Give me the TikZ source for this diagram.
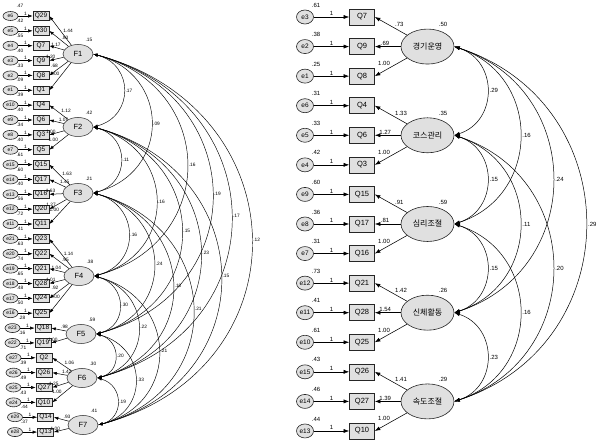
\documentclass[tikz,border=0pt]{standalone}
\usepackage{fontspec}
\setmainfont{Liberation Sans}
\newfontfamily\krfont{Noto Sans CJK KR}
\usepackage{tikz}
\usetikzlibrary{arrows.meta,shapes.geometric,calc}

\tikzset{
  errL/.style={ellipse,draw=black!85,fill=black!12,line width=0.6pt,inner sep=0pt,minimum width=15pt,minimum height=9pt,font=\fontsize{5}{5}\selectfont},
  obsL/.style={rectangle,draw=black!85,fill=black!12,line width=0.6pt,inner sep=0pt,minimum width=16pt,minimum height=8.5pt,font=\fontsize{6.5}{6.5}\selectfont},
  latL/.style={ellipse,draw=black!85,fill=black!12,line width=0.5pt,inner sep=0pt,minimum width=30pt,minimum height=19pt,font=\fontsize{7.5}{7.5}\selectfont},
  numL/.style={font=\fontsize{4.8}{5}\selectfont,inner sep=0.6pt},
  regL/.style={-{Latex[length=4.5pt,width=3.2pt]},line width=0.5pt},
  covL/.style={{Latex[length=4.5pt,width=3pt]}-{Latex[length=4.5pt,width=3pt]},line width=0.45pt,out=-15,in=15,looseness=1.48},
  errR/.style={ellipse,draw=black!85,fill=black!12,line width=0.6pt,inner sep=0pt,minimum width=17pt,minimum height=14pt,font=\fontsize{6.5}{6.5}\selectfont},
  obsR/.style={rectangle,draw=black!85,fill=black!12,line width=0.6pt,inner sep=0pt,minimum width=25pt,minimum height=16pt,font=\fontsize{7.5}{7.5}\selectfont},
  latR/.style={ellipse,draw=black!85,fill=black!12,line width=0.6pt,inner sep=0pt,minimum width=53pt,minimum height=35pt,font=\krfont\fontsize{8}{8}\selectfont},
  numR/.style={font=\fontsize{6}{6}\selectfont,inner sep=0.8pt},
  regR/.style={-{Latex[length=5.5pt,width=4pt]},line width=0.55pt},
  covR/.style={{Latex[length=5.5pt,width=3.6pt]}-{Latex[length=5.5pt,width=3.6pt]},line width=0.5pt,out=-18,in=18,looseness=1.33},
  lblSW/.style={pos=0.4,anchor=south west},
  lblS/.style={pos=0.55,anchor=south},
  lblB/.style={pos=0.9,anchor=south,yshift=0.5pt},
  lblSE/.style={pos=0.5,anchor=south east},
  lblRS/.style={pos=0.6,anchor=south}
}

\begin{document}
\begin{tikzpicture}[x=1pt,y=-1pt]
  \useasboundingbox (0,0) rectangle (600,446);

  % left model: seven factors
  \foreach \f/\x/\y/\v in {F1/78/54/.15,F2/78/127/.42,F3/78/193/.21,F4/79/276/.38,F5/81/334/.59,F6/82/378/.30,F7/83/425/.41}{
    \node[latL] (L-\f) at (\x,\y) {\f};
    \node[numL] (L-\f-var) at (\x+11,\y-14) {\v};
  }
  \foreach \r/\q/\e/\ev/\f/\w/\an/\dx in {
      0/Q29/e6/.47/F1/1.44/lblSW/0, 1/Q30/e5/.42/F1/.83/lblSW/0, 2/Q7/e4/.55/F1/1.17/lblS/0,
      3/Q9/e3/.40/F1/1.20/lblB/0, 4/Q8/e2/.33/F1/.68/lblSE/0, 5/Q1/e1/.09/F1/1.00/lblSE/0,
      6/Q4/e10/.39/F2/1.12/lblSW/0, 7/Q6/e9/.40/F2/1.07/lblSW/0, 8/Q3/e8/.34/F2/1.00/lblB/0,
      9/Q5/e7/.40/F2/1.00/lblSE/0,
      10/Q15/e15/.61/F3/1.63/lblSW/0, 11/Q17/e14/.60/F3/1.45/lblSW/0, 12/Q16/e13/.40/F3/1.63/lblB/0,
      13/Q20/e12/.56/F3/1.27/lblB/0, 14/Q11/e11/.72/F3/1.00/lblSE/0,
      15/Q23/e21/.41/F4/1.14/lblSW/0, 16/Q22/e20/.63/F4/.95/lblSW/0, 17/Q21/e19/.74/F4/1.04/lblS/0,
      18/Q28/e18/.65/F4/1.01/lblB/0, 19/Q24/e17/.48/F4/.92/lblSE/0, 20/Q25/e16/.50/F4/1.00/lblSE/0,
      21/Q18/e23/.28/F5/.98/lblSW/2, 22/Q19/e22/.16/F5/1.00/lblB/2,
      23/Q2/e27/.71/F6/1.06/lblSW/3, 24/Q26/e26/.39/F6/1.42/lblSW/3, 25/Q27/e25/.49/F6/1.25/lblB/3,
      26/Q10/e24/.43/F6/1.00/lblSE/3,
      27/Q14/e29/.44/F7/.93/lblSW/4.5, 28/Q13/e28/.37/F7/1.00/lblB/4.5}{
    \pgfmathsetmacro\yy{16+14.86*\r}
    \node[errL] (L-\e) at (10.5+\dx,\yy) {\e};
    \node[obsL] (L-\q) at (41+\dx,\yy) {\q};
    \node[numL] (L-\e-var) at (20+\dx,\yy-10) {\ev};
    \draw[regL] (L-\e) -- (L-\q) node[numL,midway,above] (L-\e-one) {1};
    \draw[regL] (L-\f) -- (L-\q.east) node[numL,\an] (L-\q-w) {\w};
  }
  \foreach \a/\b/\c in {1/2/.17,1/3/.09,1/4/.16,1/5/.19,1/6/.17,1/7/.12,
      2/3/.11,2/4/.16,2/5/.15,2/6/.23,2/7/.15,3/4/.16,3/5/.24,3/6/.10,3/7/.21,
      4/5/.30,4/6/.22,4/7/.21,5/6/.20,5/7/.33,6/7/.19}
    \draw[covL] (L-F\a.east) to node[numL,right,xshift=1pt] (L-c\a\b) {\c} (L-F\b.east);

  % right model: five factors
  \foreach \k/\t/\v in {1/경기운영/.50,2/코스관리/.35,3/심리조절/.59,4/신체활동/.26,5/속도조절/.29}{
    \pgfmathsetmacro\yy{17+29.57*(3*\k-2)}
    \node[latR] (R-F\k) at (427.5,\yy) {\t};
    \node[numR] (R-F\k-var) at (443,\yy-22) {\v};
  }
  \foreach \r/\q/\e/\ev/\k/\w/\an in {
      0/Q7/e3/.61/1/.73/lblSW, 1/Q9/e2/.38/1/.69/lblRS, 2/Q8/e1/.25/1/1.00/lblSE,
      3/Q4/e6/.31/2/1.33/lblSW, 4/Q6/e5/.33/2/1.27/lblRS, 5/Q3/e4/.42/2/1.00/lblSE,
      6/Q15/e9/.60/3/.91/lblSW, 7/Q17/e8/.36/3/.81/lblRS, 8/Q16/e7/.31/3/1.00/lblSE,
      9/Q21/e12/.73/4/1.42/lblSW, 10/Q28/e11/.41/4/1.54/lblRS, 11/Q25/e10/.61/4/1.00/lblSE,
      12/Q26/e15/.43/5/1.41/lblSW, 13/Q27/e14/.46/5/1.39/lblRS, 14/Q10/e13/.44/5/1.00/lblSE}{
    \pgfmathsetmacro\yy{17+29.57*\r}
    \node[errR] (R-\e) at (305,\yy) {\e};
    \node[obsR] (R-\q) at (362,\yy) {\q};
    \node[numR] (R-\e-var) at (316,\yy-12) {\ev};
    \draw[regR] (R-\e) -- (R-\q) node[numR,midway,above] (R-\e-one) {1};
    \draw[regR] (R-F\k) -- (R-\q.east) node[numR,\an] (R-\q-w) {\w};
  }
  \foreach \a/\b/\c in {1/2/.29,1/3/.16,1/4/.24,1/5/.29,2/3/.15,2/4/.11,2/5/.20,3/4/.15,3/5/.16,4/5/.23}
    \draw[covR] (R-F\a.east) to node[numR,right,xshift=1.5pt] (R-c\a\b) {\c} (R-F\b.east);
\end{tikzpicture}
\end{document}
